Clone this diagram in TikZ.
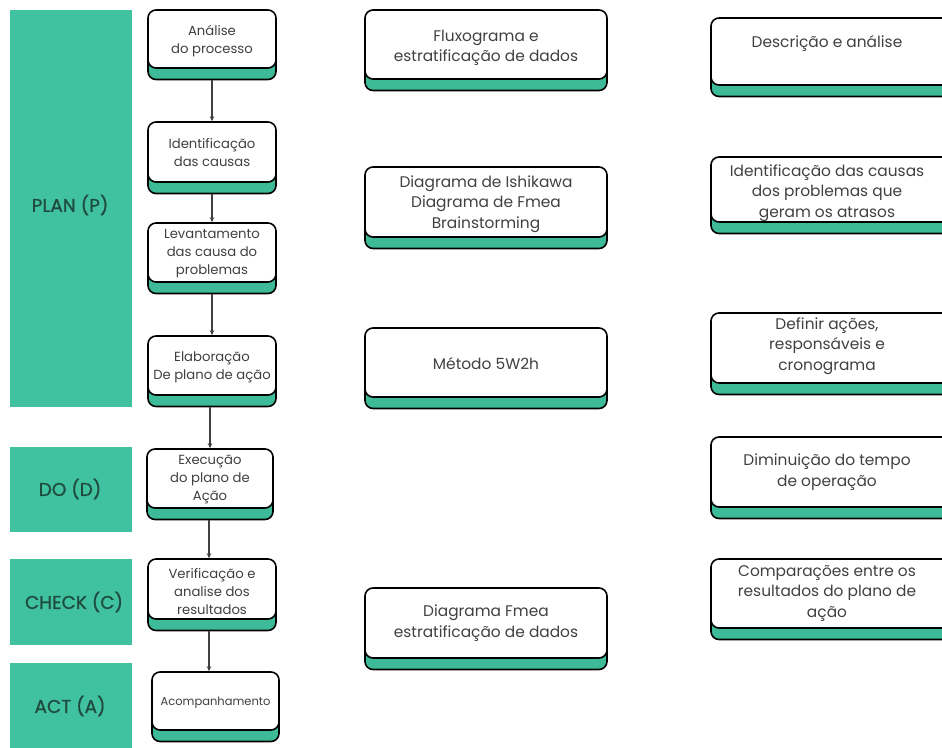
\documentclass[tikz,border=0pt]{standalone}
\usepackage{fontspec}
\setmainfont{Poppins}
\newfontfamily\phasefont{Poppins}[FakeBold=0.8]
\usetikzlibrary{shadows,arrows.meta}
\definecolor{band}{HTML}{40C1A0}
\definecolor{strip}{HTML}{3DBB98}
\definecolor{ink}{HTML}{404040}
\definecolor{labelink}{HTML}{1F4A3E}

% card: white rounded box with a green strip peeking out underneath
\newcommand\cardnode[5]{%
  \node[card, minimum width={#4-#2}, minimum height={#5-#3}] (#1) at ({(#2+#4)/2},{(#3+#5)/2}) {};}

\begin{document}
\begin{tikzpicture}[x=1pt,y=-1pt,
  card/.style={draw=black, line width=1.6pt, fill=white, rounded corners=8pt, inner sep=0pt,
    general shadow={fill=strip, draw=black, line width=1.6pt, shadow xshift=0pt, shadow yshift=-11.5pt}},
  phase/.style={fill=band, draw=none, inner sep=0pt},
  phasetxt/.style={text=labelink, font=\phasefont\fontsize{18.5}{20}\selectfont},
  ltxt/.style={text=ink, align=center, font=\fontsize{13.2}{18}\selectfont},
  mtxt/.style={text=ink, align=center, font=\fontsize{15.4}{20.5}\selectfont},
  arr/.style={draw=ink, line width=1.1pt, -{Stealth[length=5pt,width=4.5pt]}}
]
\useasboundingbox (0,0) rectangle (942,747);
\clip (0,0) rectangle (942,747);

% phase bands
\node[phase, minimum width=122, minimum height=397] (plan) at (71,208.5) {};
\node[phase, minimum width=122, minimum height=85] (do) at (71,489.5) {};
\node[phase, minimum width=122, minimum height=86] (check) at (71,602) {};
\node[phase, minimum width=122, minimum height=90] (act) at (71,708) {};
\node[phasetxt] (plant) at (70,205) {PLAN (P)};
\node[phasetxt] (dot) at (70,489) {DO (D)};
\node[phasetxt] (checkt) at (74,602) {CHECK (C)};
\node[phasetxt] (actt) at (70,706) {ACT (A)};

% process steps
\cardnode{l1}{148}{10}{276}{68}
\cardnode{l2}{148}{122}{276}{182}
\cardnode{l3}{148}{223}{276}{282}
\cardnode{l4}{148}{336}{276}{395}
\cardnode{l5}{147}{449}{273}{508}
\cardnode{l6}{148}{559}{276}{619}
\cardnode{l7}{152}{672}{279}{730}
\node[ltxt] (l1t) at (212,41) {Análise\\do processo};
\node[ltxt] (l2t) at (212,153) {Identificação\\das causas};
\node[ltxt] (l3t) at (212,254) {Levantamento\\das causa do\\problemas};
\node[ltxt] (l4t) at (212,367) {Elaboração\\De plano de ação};
\node[ltxt] (l5t) at (210,480) {Execução\\do plano de\\Ação};
\node[ltxt] (l6t) at (212,592) {Verificação e\\analise dos\\resultados};
\node[ltxt, font=\fontsize{11.5}{14}\selectfont] (l7t) at (215.5,703) {Acompanhamento};

% tools
\cardnode{m1}{365}{10}{607}{79}
\cardnode{m2}{365}{167}{607}{237}
\cardnode{m3}{365}{328}{607}{397}
\cardnode{m4}{365}{588}{607}{658}
\node[mtxt] (m1t) at (486,48) {Fluxograma e\\estratificação de dados};
\node[mtxt] (m2t) at (486,204) {Diagrama de Ishikawa\\Diagrama de Fmea\\Brainstorming};
\node[mtxt] (m3t) at (486,364) {Método 5W2h};
\node[mtxt] (m4t) at (486,623) {Diagrama Fmea\\estratificação de dados};

% outcomes
\cardnode{r1}{711}{18}{962}{85}
\cardnode{r2}{711}{157}{962}{222}
\cardnode{r3}{711}{313}{962}{383}
\cardnode{r4}{711}{437}{962}{507}
\cardnode{r5}{711}{559}{962}{628}
\node[mtxt] (r1t) at (827,43) {Descrição e análise};
\node[mtxt] (r2t) at (827,193) {Identificação das causas\\dos problemas que\\geram os atrasos};
\node[mtxt] (r3t) at (827,346) {Definir ações,\\responsáveis e\\cronograma};
\node[mtxt] (r4t) at (827,472) {Diminuição do tempo\\de operação};
\node[mtxt] (r5t) at (827,593) {Comparações entre os\\resultados do plano de\\ação};

% flow between steps
\draw[arr] ([yshift=-11.5pt]l1.south) -- (l1.south |- l2.north);
\draw[arr] ([yshift=-11.5pt]l2.south) -- (l2.south |- l3.north);
\draw[arr] ([yshift=-11.5pt]l3.south) -- (l3.south |- l4.north);
\draw[arr] ([xshift=-2pt,yshift=-11.5pt]l4.south) -- ([xshift=-2pt]l4.south |- l5.north);
\draw[arr] ([xshift=-1pt,yshift=-11.5pt]l5.south) -- ([xshift=-1pt]l5.south |- l6.north);
\draw[arr] ([xshift=-3pt,yshift=-11.5pt]l6.south) -- ([xshift=-3pt]l6.south |- l7.north);
\end{tikzpicture}
\end{document}
